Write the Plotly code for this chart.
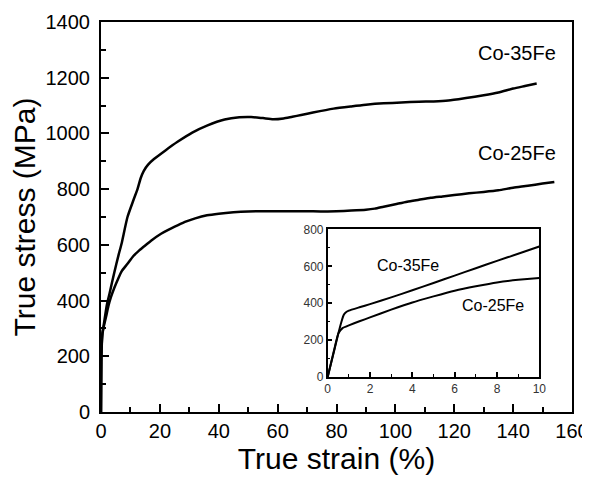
import plotly.graph_objects as go

# Main curves (true strain %, true stress MPa)
x35 = [0, 0.2, 0.5, 0.9, 2, 3, 4.5, 6, 7, 9, 11, 12.4, 13.5, 14.5, 16, 18, 22, 26, 31, 36, 42, 47, 51, 55, 58.5, 62, 65, 68, 72, 79, 85, 90, 96, 102, 108, 113, 118, 124, 130, 135, 140, 144, 148]
y35 = [0, 220, 285, 310, 385, 430, 500, 565, 605, 700, 760, 800, 840, 865, 888, 908, 940, 970, 1003, 1028, 1050, 1058, 1059, 1055, 1051, 1054, 1060, 1066, 1075, 1089, 1097, 1103, 1108, 1111, 1114, 1115, 1118, 1127, 1137, 1147, 1161, 1170, 1179]

x25 = [0, 0.1, 0.3, 0.5, 1, 1.7, 2.5, 3.4, 4.5, 5.6, 7, 9, 11, 13, 14.7, 17, 20.4, 23, 26, 29, 32, 36, 40, 45, 50, 55, 60, 65, 70, 75, 80, 85, 90, 93, 96, 100, 104, 108, 112, 116, 120, 125, 130, 135, 140, 145, 150, 154]
y25 = [0, 180, 255, 281, 310, 341, 380, 413, 445, 473, 505, 532, 560, 580, 595, 615, 640, 655, 670, 684, 695, 706, 712, 717, 720, 721, 721, 721, 721, 720, 721, 723, 726, 730, 737, 746, 755, 762, 769, 774, 779, 785, 790, 796, 805, 812, 820, 826]

# Inset curves (0-10 % strain)
ix35 = [0, 0.3, 0.5, 0.65, 0.75, 0.85, 1, 1.5, 2, 3, 4, 5, 6, 7, 8, 9, 10]
iy35 = [0, 140, 235, 300, 335, 350, 360, 378, 395, 432, 470, 510, 550, 590, 630, 668, 708]
ix25 = [0, 0.3, 0.5, 0.7, 1, 1.5, 2, 3, 4, 5, 6, 7, 8, 9, 10]
iy25 = [0, 145, 235, 265, 280, 302, 323, 365, 404, 437, 468, 492, 513, 527, 537]

labels = ["Co-35Fe", "Co-25Fe"]

FONT = "Liberation Sans, Arial, Helvetica, sans-serif"

fig = go.Figure()
main_line = dict(color="black", width=2.5, shape="spline", smoothing=0.6)
inset_line = dict(color="black", width=2, shape="spline", smoothing=0.4)
fig.add_trace(go.Scatter(x=x35, y=y35, mode="lines", line=main_line, showlegend=False))
fig.add_trace(go.Scatter(x=x25, y=y25, mode="lines", line=main_line, showlegend=False))
fig.add_trace(go.Scatter(x=ix35, y=iy35, mode="lines", line=inset_line, xaxis="x2", yaxis="y2", showlegend=False))
fig.add_trace(go.Scatter(x=ix25, y=iy25, mode="lines", line=inset_line, xaxis="x2", yaxis="y2", showlegend=False))

fig.update_layout(
    width=582, height=469,
    margin=dict(l=93, r=18, t=14, b=65),
    paper_bgcolor="white", plot_bgcolor="white",
    font=dict(family=FONT, color="black"),
    xaxis=dict(
        range=[0, 160], dtick=20, tick0=0, automargin=False,
        showgrid=False, zeroline=False,
        showline=True, linecolor="black", linewidth=2, mirror=True,
        ticks="inside", ticklen=8, tickwidth=2, tickcolor="black",
        minor=dict(ticks="inside", ticklen=5, tickwidth=1.5, dtick=10, tickcolor="black"),
        tickfont=dict(size=20),
        title=dict(text="True strain (%)", font=dict(size=30), standoff=6),
    ),
    yaxis=dict(
        range=[0, 1400], dtick=200, tick0=0, automargin=False,
        showgrid=False, zeroline=False,
        showline=True, linecolor="black", linewidth=2, mirror=True,
        ticks="inside", ticklen=8, tickwidth=2, tickcolor="black",
        ticklabelstandoff=5,
        minor=dict(ticks="inside", ticklen=5, tickwidth=1.5, dtick=100, tickcolor="black"),
        tickfont=dict(size=20),
        title=dict(text="True stress (MPa)", font=dict(size=30), standoff=10),
    ),
    xaxis2=dict(
        domain=[0.4813, 0.9306], anchor="y2", automargin=False,
        range=[0, 10], dtick=2, tick0=0,
        showgrid=False, zeroline=False,
        showline=True, linecolor="black", linewidth=1.5, mirror=True,
        ticks="inside", ticklen=5, tickwidth=1.5, tickcolor="black",
        minor=dict(ticks="inside", ticklen=3, tickwidth=1, dtick=1, tickcolor="black"),
        tickfont=dict(size=12, color="#333"),
    ),
    yaxis2=dict(
        domain=[0.0898, 0.468], anchor="x2", automargin=False,
        range=[0, 800], dtick=200, tick0=0,
        showgrid=False, zeroline=False,
        showline=True, linecolor="black", linewidth=1.5, mirror=True,
        ticks="inside", ticklen=5, tickwidth=1.5, tickcolor="black",
        minor=dict(ticks="inside", ticklen=3, tickwidth=1, dtick=100, tickcolor="black"),
        tickfont=dict(size=12, color="#333"),
    ),
    shapes=[dict(type="rect", xref="x2 domain", yref="y2 domain", x0=0, x1=1, y0=0, y1=1,
                 fillcolor="white", line=dict(width=0), layer="below")],
    annotations=[
        dict(text=labels[0], x=141.3, y=1288, xref="x", yref="y", showarrow=False, font=dict(size=20)),
        dict(text=labels[1], x=141.3, y=929, xref="x", yref="y", showarrow=False, font=dict(size=20)),
        dict(text=labels[0], x=3.81, y=606, xref="x2", yref="y2", showarrow=False, font=dict(size=16)),
        dict(text=labels[1], x=7.79, y=389, xref="x2", yref="y2", showarrow=False, font=dict(size=16)),
    ],
)

fig.write_html("out.html")
